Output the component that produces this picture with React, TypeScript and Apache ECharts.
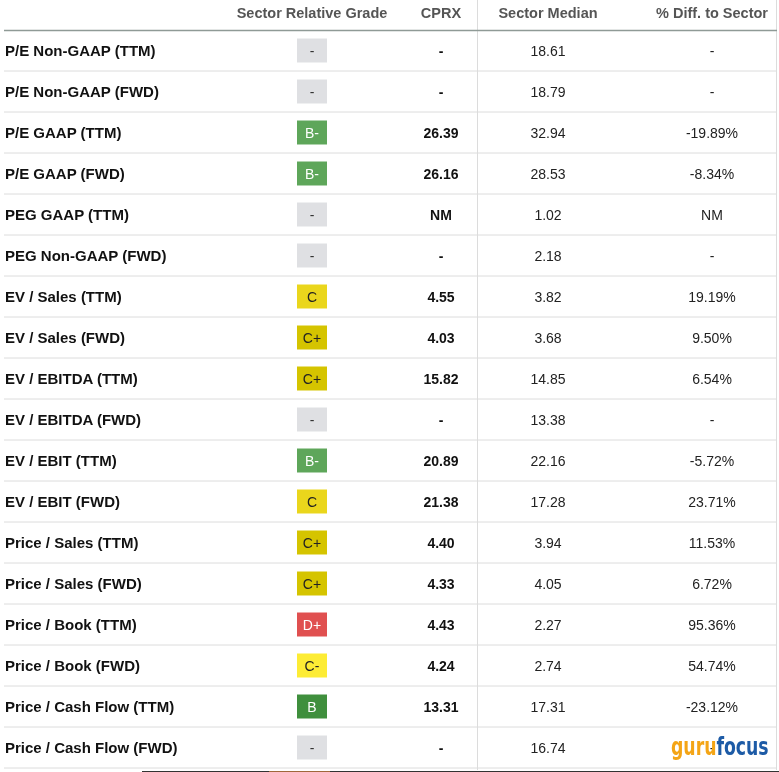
import React, { useEffect, useRef } from "react";
import * as echarts from "echarts";

const headers = ["Sector Relative Grade", "CPRX", "Sector Median", "% Diff. to Sector"];
const metrics = [
  "P/E Non-GAAP (TTM)", "P/E Non-GAAP (FWD)", "P/E GAAP (TTM)", "P/E GAAP (FWD)",
  "PEG GAAP (TTM)", "PEG Non-GAAP (FWD)", "EV / Sales (TTM)", "EV / Sales (FWD)",
  "EV / EBITDA (TTM)", "EV / EBITDA (FWD)", "EV / EBIT (TTM)", "EV / EBIT (FWD)",
  "Price / Sales (TTM)", "Price / Sales (FWD)", "Price / Book (TTM)", "Price / Book (FWD)",
  "Price / Cash Flow (TTM)", "Price / Cash Flow (FWD)",
];
const grades = ["-", "-", "B-", "B-", "-", "-", "C", "C+", "C+", "-", "B-", "C", "C+", "C+", "D+", "C-", "B", "-"];
const cprx = ["-", "-", "26.39", "26.16", "NM", "-", "4.55", "4.03", "15.82", "-", "20.89", "21.38", "4.40", "4.33", "4.43", "4.24", "13.31", "-"];
const sectorMedian = ["18.61", "18.79", "32.94", "28.53", "1.02", "2.18", "3.82", "3.68", "14.85", "13.38", "22.16", "17.28", "3.94", "4.05", "2.27", "2.74", "17.31", "16.74"];
const pctDiff = ["-", "-", "-19.89%", "-8.34%", "NM", "-", "19.19%", "9.50%", "6.54%", "-", "-5.72%", "23.71%", "11.53%", "6.72%", "95.36%", "54.74%", "-23.12%", "-"];

const gradeStyle: Record<string, { bg: string; fg: string }> = {
  "-": { bg: "#dfe0e3", fg: "#333333" },
  "B": { bg: "#3f8f3d", fg: "#ffffff" },
  "B-": { bg: "#5ea65a", fg: "#ffffff" },
  "C+": { bg: "#d5c400", fg: "#222222" },
  "C": { bg: "#ead61c", fg: "#222222" },
  "C-": { bg: "#fdec35", fg: "#222222" },
  "D+": { bg: "#e05050", fg: "#ffffff" },
};

const FONT = "'Liberation Sans', Arial, sans-serif";

export default function App() {
  const ref = useRef<HTMLDivElement>(null);
  useEffect(() => {
    if (!ref.current) return;
    const chart = echarts.init(ref.current, null, { renderer: "svg" });
    const W = 779;
    const colX = [312, 441, 548, 712];
    const rowY0 = 50.5;
    const rowH = 41;
    const els: any[] = [];
    els.push({ type: "rect", shape: { x: 0, y: 0, width: W, height: 772 }, style: { fill: "#ffffff" }, silent: true });
    els.push({ type: "line", shape: { x1: 477.5, y1: 0, x2: 477.5, y2: 770 }, style: { stroke: "#dcdcdc", lineWidth: 1 } });
    els.push({ type: "line", shape: { x1: 776.5, y1: 0, x2: 776.5, y2: 770 }, style: { stroke: "#dcdcdc", lineWidth: 1 } });
    headers.forEach((h, i) => {
      els.push({
        type: "text", x: colX[i], y: 13,
        style: { text: h, fill: "#555555", font: `bold 14.5px ${FONT}`, textAlign: "center", textVerticalAlign: "middle" },
      });
    });
    els.push({ type: "line", shape: { x1: 4, y1: 30.5, x2: 777, y2: 30.5 }, style: { stroke: "#8f9a96", lineWidth: 1.5 } });
    metrics.forEach((m, i) => {
      const cy = rowY0 + i * rowH;
      els.push({ type: "text", x: 5, y: cy, style: { text: m, fill: "#111111", font: `bold 15px ${FONT}`, textAlign: "left", textVerticalAlign: "middle" } });
      const gs = gradeStyle[grades[i]];
      els.push({ type: "rect", shape: { x: 297, y: cy - 12, width: 30, height: 24 }, style: { fill: gs.bg } });
      els.push({ type: "text", x: 312, y: cy, style: { text: grades[i], fill: gs.fg, font: `14px ${FONT}`, textAlign: "center", textVerticalAlign: "middle" } });
      els.push({ type: "text", x: colX[1], y: cy, style: { text: cprx[i], fill: "#111111", font: `bold 14px ${FONT}`, textAlign: "center", textVerticalAlign: "middle" } });
      els.push({ type: "text", x: colX[2], y: cy, style: { text: sectorMedian[i], fill: "#222222", font: `14px ${FONT}`, textAlign: "center", textVerticalAlign: "middle" } });
      els.push({ type: "text", x: colX[3], y: cy, style: { text: pctDiff[i], fill: "#222222", font: `14px ${FONT}`, textAlign: "center", textVerticalAlign: "middle" } });
      const ly = cy + 20.5;
      els.push({ type: "line", shape: { x1: 4, y1: ly, x2: 777, y2: ly }, style: { stroke: "#dcdcdc", lineWidth: 1 } });
    });
    els.push({
      type: "text", x: 671, y: 747, scaleX: 0.8,
      style: {
        rich: {
          a: { fill: "#f4a516", font: `bold 24px 'DejaVu Sans Condensed', sans-serif` },
          b: { fill: "#1d5ba6", font: `bold 24px 'DejaVu Sans Condensed', sans-serif` },
        },
        text: "{a|guru}{b|focus}", textAlign: "left", textVerticalAlign: "middle",
      },
    });
    els.push({ type: "rect", shape: { x: 142, y: 771, width: 637, height: 1 }, style: { fill: "#333333" } });
    els.push({ type: "rect", shape: { x: 269, y: 771, width: 61, height: 1 }, style: { fill: "#a0683a" } });

    chart.setOption({ animation: false, graphic: { elements: els } });
    return () => chart.dispose();
  }, []);
  return <div ref={ref} style={{ position: "fixed", left: 0, top: 0, width: 779, height: 772 }} />;
}
